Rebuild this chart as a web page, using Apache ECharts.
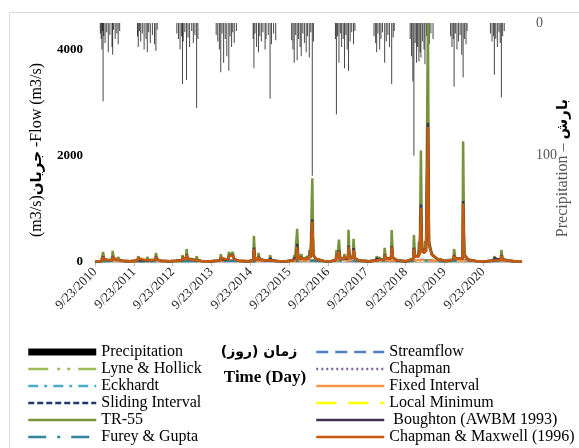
<!DOCTYPE html>
<html><head><meta charset="utf-8">
<script src="https://cdn.jsdelivr.net/npm/echarts@6/dist/echarts.min.js"></script>
<style>html,body{margin:0;padding:0;background:#fff}#c{width:579px;height:448px}</style>
</head><body><div id="c"></div>
<script>
const FONT = "'Liberation Serif','Times New Roman',serif";

// x axis: days since 9/23/2010
const tickLabels = ['9/23/2010','9/23/2011','9/23/2012','9/23/2013','9/23/2014','9/23/2015','9/23/2016','9/23/2017','9/23/2018','9/23/2019','9/23/2020'];

// Precipitation (mm), right axis
const precipDays = [50,58,65,72,76,82,95,110,125,140,160,166,175,190,205,218,232,
400,407,418,430,445,462,480,492,505,520,540,560,573,585,
770,785,800,815,823,830,845,861,875,890,910,925,940,956,968,
1140,1155,1170,1183,1195,1210,1225,1240,1259,1270,1285,1296,1310,1330,
1488,1495,1505,1520,1538,1550,1565,1580,1600,1609,1630,1647,1660,1680,1700,
1850,1862,1874,1888,1902,1915,1930,1940,1955,1970,1987,2000,2016,2030,2044,2055,
2262,2271,2282,2295,2308,2320,2335,2347,2360,2372,2385,2400,2415,2432,2445,
2625,2640,2650,2662,2678,2690,2705,2725,2740,2755,2770,2791,2805,2815,
2965,2978,2990,3000,3012,3025,3035,3047,3058,3066,3080,3095,3104,3118,3132,3145,3160,3180,
3345,3358,3370,3378,3390,3405,3420,3435,3450,3463,3475,3490,3500,
3720,3735,3750,3757,3770,3785,3800,3812,3823,3835,3850];
const precipValues = [8,12,20,6,59,10,15,7,22,9,18,24,5,12,8,16,6,
10,18,6,14,8,20,12,22,7,15,9,16,21,5,
8,12,20,10,46,14,7,43,11,18,6,15,9,64,12,
9,14,20,37,8,30,12,25,36,10,18,7,15,6,
12,34,8,18,22,10,14,7,20,12,9,57,16,8,13,
13,20,30,9,28,12,18,25,8,15,22,10,26,7,115,14,
12,69,10,30,8,18,12,34,9,20,36,14,7,16,6,
10,15,22,8,20,12,7,30,14,9,18,46,11,6,
12,25,44,100,15,30,18,29,22,26,14,20,31,10,27,16,8,12,
10,18,12,48,8,20,14,9,24,41,12,16,6,
8,14,10,39,12,18,7,15,56,10,6];

// Event-resolved flow series (m3/s), left axis
const eventDays = [0,60,74,76,86,118,123,133,162,166,176,212,218,230,260,330,
400,407,420,486,492,505,567,573,585,620,700,
762,767,780,818,823,832,857,861,872,950,956,968,1000,1090,
1178,1183,1195,1254,1259,1275,1296,1310,1350,1440,
1490,1495,1505,1533,1538,1550,1605,1609,1620,1642,1647,1660,1700,1800,
1868,1874,1882,1898,1902,1912,1936,1940,1950,1983,1987,1995,2012,2016,2028,2040,2044,2054,2078,2082,2095,2150,2220,
2266,2271,2280,2290,2295,2308,2340,2347,2358,2380,2385,2395,2426,2432,2444,2480,2580,
2645,2650,2662,2672,2678,2690,2720,2725,2736,2785,2791,2803,2840,2930,
2994,3000,3010,3042,3047,3055,3062,3066,3076,3100,3104,3114,3128,3132,3142,3170,3220,3300,
3372,3378,3390,3458,3463,3474,3510,3580,3680,
3750,3757,3768,3817,3823,3835,3880,3950,4017];
const tr55 = [15,20,35,190,60,40,75,45,50,210,80,45,95,45,25,15,
30,110,40,35,95,40,45,170,55,25,15,
25,50,30,40,130,60,60,245,70,40,110,40,20,15,
35,150,50,50,190,120,190,60,25,15,
35,495,80,50,170,50,35,60,35,40,130,40,20,15,
40,130,60,70,625,100,70,150,70,60,100,70,80,225,90,100,1575,150,60,80,40,20,15,
40,225,70,80,420,70,60,150,70,80,605,100,90,435,80,30,15,
35,110,45,45,90,45,50,265,70,80,600,90,35,15,
70,510,120,120,380,150,160,2100,250,200,400,250,260,4500,400,150,60,20,
50,245,70,70,2275,150,50,20,15,
35,110,40,45,225,60,30,15,15];
const boughton = [15,20,30,105,45,35,55,40,40,110,60,40,65,40,25,15,
30,75,35,30,65,35,40,95,45,25,15,
25,42,30,35,85,50,50,140,55,35,65,35,20,15,
30,85,45,45,115,80,125,50,25,15,
30,270,60,45,105,45,30,45,30,35,75,35,20,15,
35,75,50,55,340,80,60,105,60,55,75,60,70,130,80,90,800,120,55,65,35,20,15,
35,140,60,70,215,60,55,100,60,70,310,90,80,260,70,30,15,
30,70,40,40,60,40,45,140,60,70,300,80,30,15,
60,265,100,100,210,130,140,1080,200,170,260,200,220,2620,330,130,55,20,
45,130,60,60,1150,120,45,20,15,
30,70,35,40,130,50,30,15,15];
const chapmanMaxwell = [15,20,30,95,45,35,50,40,40,100,60,40,60,40,25,15,
30,70,35,30,60,35,40,90,45,25,15,
25,40,30,35,80,50,50,130,55,35,60,35,20,15,
30,80,45,45,110,75,120,50,25,15,
30,245,60,45,100,45,30,45,30,35,70,35,20,15,
35,70,50,55,285,80,60,100,60,55,70,60,70,120,80,90,760,120,55,65,35,20,15,
35,130,60,70,200,60,55,95,60,70,285,90,80,225,70,30,15,
30,65,40,40,55,40,45,130,60,70,285,80,30,15,
60,250,100,100,200,130,140,1020,200,170,250,200,220,2540,320,130,55,20,
45,120,60,60,1100,120,45,20,15,
30,65,35,40,120,50,30,15,15];

// Smooth low-flow series (m3/s), left axis
const baseDays = [0,150,365,515,730,880,1096,1246,1461,1611,1826,1976,2191,2341,2557,2707,2922,3072,3287,3437,3652,3802,4017];
const streamflow      = [12,30,12,28,12,32,12,34,13,36,14,40,14,42,13,38,14,45,15,40,12,32,10];
const lyneHollick     = [10,28,11,25,11,30,11,32,12,34,13,38,13,40,12,36,13,42,14,38,11,30,9];
const eckhardt        = [8,24,9,22,9,26,9,28,10,30,11,34,11,36,10,32,11,38,12,34,10,26,8];
const slidingInterval = [11,26,11,24,11,28,12,30,12,32,13,36,13,38,12,34,13,40,14,36,11,28,10];
const fureyGupta      = [6,18,7,16,7,20,7,22,8,24,8,26,8,28,8,25,9,30,10,26,8,20,6];
const chapman         = [9,22,9,20,9,24,10,26,10,28,11,32,11,34,10,30,11,36,12,32,9,24,8];
const fixedInterval   = [9,24,10,22,10,26,10,28,11,30,12,34,12,36,11,32,12,38,13,34,10,26,8];
const localMinimum    = [8,23,9,21,9,25,9,27,10,29,11,33,11,35,10,31,11,37,12,33,9,25,8];

const pairs = (xs, ys) => xs.map((x, i) => [x, ys[i]]);

function lineSeries(name, days, vals, color, type, width) {
  return {
    name, type: 'line', yAxisIndex: 0, data: pairs(days, vals),
    symbol: 'none', showSymbol: false,
    lineStyle: { color, width: width || 2, type: type || 'solid' },
    itemStyle: { color }
  };
}

const chart = echarts.init(document.getElementById('c'), null, { renderer: 'canvas' });
function legendCfg(left, data) {
  return {
    orient: 'vertical', left, top: 343.5, height: 104, padding: 0,
    itemWidth: 68, itemHeight: 7, itemGap: 0, selectedMode: false,
    textStyle: { fontFamily: FONT, fontSize: 16, color: '#000', lineHeight: 17 },
    lineStyle: { width: 2.5 },
    itemStyle: { opacity: 0 },
    data
  };
}

chart.setOption({
  animation: false,
  backgroundColor: '#fff',
  grid: { left: 95, right: 57, top: 23, bottom: 186, containLabel: false },
  xAxis: {
    type: 'value', min: 0, max: 4017, interval: 365.25,
    axisLine: { show: true, lineStyle: { color: '#bfbfbf' } },
    axisTick: { show: true, length: 4, lineStyle: { color: '#bfbfbf' } },
    splitLine: { show: false },
    axisLabel: {
      rotate: 45, fontFamily: FONT, fontSize: 13, color: '#222', margin: 8,
      showMaxLabel: false,
      formatter: v => tickLabels[Math.round(v / 365.25)] || ''
    }
  },
  yAxis: [
    {
      type: 'value', min: 0, max: 4500, interval: 2000, position: 'left',
      axisLine: { show: false }, axisTick: { show: false }, splitLine: { show: false },
      axisLabel: { fontFamily: FONT, fontSize: 13, fontWeight: 'bold', color: '#000', margin: 12, showMaxLabel: false, formatter: v => String(v) }
    },
    {
      type: 'value', min: 0, max: 180, interval: 100, position: 'right', inverse: true,
      axisLine: { show: false }, axisTick: { show: false }, splitLine: { show: false },
      axisLabel: { fontFamily: FONT, fontSize: 14, color: '#595959', margin: 14, showMaxLabel: false, formatter: v => String(v) }
    }
  ],
  legend: [
    legendCfg(27, [{ name: 'Precipitation', icon: 'rect', itemStyle: { opacity: 1, color: '#000' } }, 'Lyne & Hollick', 'Eckhardt', 'Sliding Interval', 'TR-55', 'Furey & Gupta']),
    legendCfg(315, ['Streamflow', 'Chapman', 'Fixed Interval', 'Local Minimum', ' Boughton (AWBM 1993)', 'Chapman & Maxwell (1996)'])
  ],
  graphic: [
    { type: 'rect', left: 7, top: 10, shape: { width: 640, height: 520 }, style: { fill: 'none', stroke: '#d9d9d9', lineWidth: 1 }, silent: true },
    {
      type: 'text', x: 37, y: 150, rotation: Math.PI / 2,
      style: {
        text: '{r|(m3/s)}{a|جریان}{r| -Flow (m3/s)}', align: 'center', verticalAlign: 'middle',
        rich: { r: { fontFamily: FONT, fontSize: 16, fill: '#000' }, a: { fontFamily: "'DejaVu Sans',sans-serif", fontSize: 15, fontWeight: 'bold', fill: '#000' } }
      }
    },
    {
      type: 'text', x: 563, y: 168, rotation: Math.PI / 2,
      style: {
        text: '{r|Precipitation – }{a|بارش}', align: 'center', verticalAlign: 'middle',
        rich: { r: { fontFamily: FONT, fontSize: 16, fill: '#595959' }, a: { fontFamily: "'DejaVu Sans',sans-serif", fontSize: 15, fontWeight: 'bold', fill: '#000' } }
      }
    },
    {
      type: 'text', x: 259, y: 352,
      style: { text: '\u200Fزمان (روز)\u200F', align: 'center', verticalAlign: 'middle', font: "bold 14px 'DejaVu Sans',sans-serif", fill: '#000' }
    },
    {
      type: 'text', x: 265, y: 378,
      style: { text: 'Time (Day)', align: 'center', verticalAlign: 'middle', font: "bold 17px " + FONT, fill: '#000' }
    }
  ],
  series: [
    { name: 'Precipitation', type: 'bar', yAxisIndex: 1, data: pairs(precipDays, precipValues), barWidth: 1, itemStyle: { color: 'rgba(0,0,0,0.72)' } },
    lineSeries('Local Minimum', baseDays, localMinimum, '#FFFF00', [20, 12]),
    lineSeries('Streamflow', baseDays, streamflow, '#4F81BD', [12, 7]),
    lineSeries('Lyne & Hollick', baseDays, lyneHollick, '#9BBB59', [20, 9, 3, 7, 3, 8]),
    lineSeries('Eckhardt', baseDays, eckhardt, '#4BACC6', [10, 6, 3, 6]),
    lineSeries('Sliding Interval', baseDays, slidingInterval, '#1F3864', [6, 3]),
    lineSeries('Chapman', baseDays, chapman, '#8064A2', [2, 3]),
    lineSeries('Fixed Interval', baseDays, fixedInterval, '#F79646'),
    lineSeries('Furey & Gupta', baseDays, fureyGupta, '#31859C', [18, 11, 3, 11]),
    lineSeries('TR-55', eventDays, tr55, '#77933C', 'solid', 2.5),
    lineSeries(' Boughton (AWBM 1993)', eventDays, boughton, '#403152', 'solid', 2.5),
    lineSeries('Chapman & Maxwell (1996)', eventDays, chapmanMaxwell, '#C55A11', 'solid', 2.5)
  ]
});
</script></body></html>
